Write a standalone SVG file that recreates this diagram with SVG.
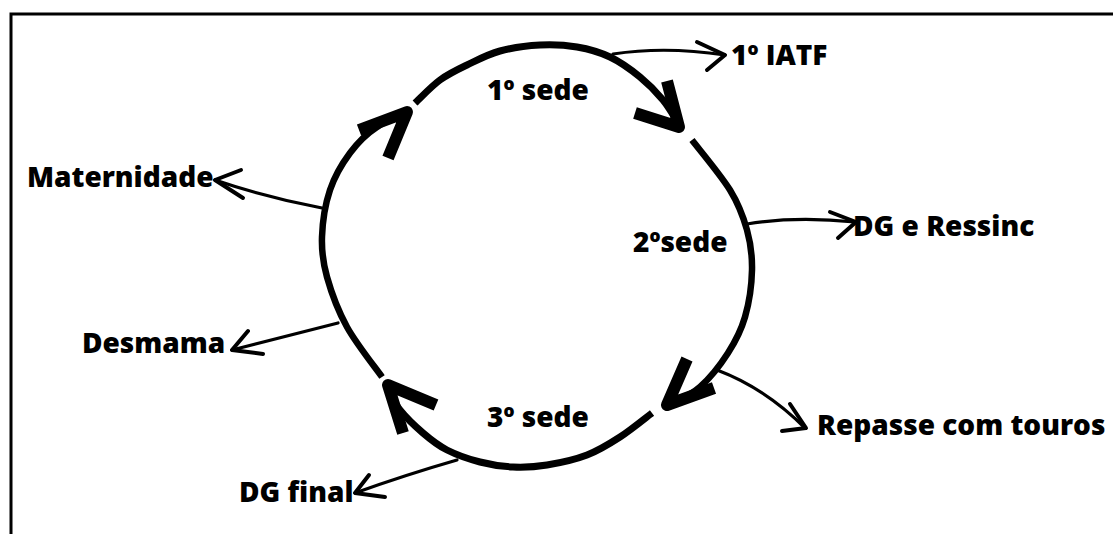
<svg xmlns="http://www.w3.org/2000/svg" width="1113" height="534" viewBox="0 0 1113 534">
  <style>
    .lbl { font-family: "Open Sans", "Liberation Sans", sans-serif; font-weight: 800; font-size: 28px; fill: #000; }
    .arc { fill: none; stroke: #000; stroke-width: 7; stroke-linecap: butt; }
    .arc-thin { stroke-width: 6.5; }
    .head { fill: none; stroke: #000; stroke-width: 12; stroke-linecap: butt; stroke-linejoin: round; }
    .branch { fill: none; stroke: #000; stroke-width: 3.2; stroke-linecap: round; stroke-linejoin: round; }
    .tip { fill: none; stroke: #000; stroke-width: 4; stroke-linecap: round; stroke-linejoin: round; }
    .frame { fill: none; stroke: #000; stroke-width: 3; }
  </style>
  <rect x="0" y="0" width="1113" height="534" fill="#fff"/>
  <!-- outer frame, open to the right and bottom -->
  <path class="frame" d="M11,540 L11,14 L1120,14"/>

  <g id="connectors">
    <!-- cycle arcs: 1st -> 2nd -> 3rd -> back to start -->
    <path class="arc" d="M415,103 C419.2,99.2 431.3,86.3 440,80 C448.7,73.7 457,69.8 467,65 C477,60.2 487.8,54.3 500,51 C512.2,47.7 527.2,45.7 540,45 C552.8,44.3 565.3,45 577,47 C588.7,49 599.5,52 610,57 C620.5,62 631.2,69.8 640,77 C648.8,84.2 656.3,91.8 663,100 C669.7,108.2 677.2,121.7 680,126"/>
    <path class="head" d="M635,113 L679,127 L667,81"/>

    <path class="arc arc-thin" d="M692,140 C698.3,148.3 720.8,175 730,190 C739.2,205 743.3,216.7 747,230 C750.7,243.3 752.3,255.5 752,270 C751.7,284.5 749,303.2 745,317 C741,330.8 735.5,341.3 728,353 C720.5,364.7 709.7,378.3 700,387 C690.3,395.7 675,402 670,405"/>
    <path class="head" d="M687,359 L667,405 L714,388"/>

    <path class="arc" d="M652,413 C646.7,417 630.8,430 620,437 C609.2,444 599.2,450.3 587,455 C574.8,459.7 559.3,463 547,465 C534.7,467 524.2,467.5 513,467 C501.8,466.5 491,464.8 480,462 C469,459.2 456.5,454.8 447,450 C437.5,445.2 430.8,439.7 423,433 C415.2,426.3 405.8,417.2 400,410 C394.2,402.8 390,393.3 388,390"/>
    <path class="head" d="M436,405 L388,385 L403,433"/>

    <path class="arc arc-thin" d="M382,377 C376.2,368.7 356.2,343.7 347,327 C337.8,310.3 331.2,292 327,277 C322.8,262 321.5,251.5 322,237 C322.5,222.5 325.3,204 330,190 C334.7,176 342.2,163.5 350,153 C357.8,142.5 367.5,133.2 377,127 C386.5,120.2 402,114.5 407,112"/>
    <path class="head" d="M359,130 L407,112 L388,158"/>

    <!-- side branches -->
    <path class="branch" d="M613,54 Q665,46 725,55"/>
    <path class="tip" d="M697,42 L725,55 L707,70"/>
    <path class="branch" d="M747,224 Q795,216 855,222"/>
    <path class="tip" d="M830,212 L856,222 L838,238"/>
    <path class="branch" d="M717,370 Q765,388 805,428"/>
    <path class="tip" d="M790,404 L806,428 L782,431"/>
    <path class="branch" d="M457,460 Q405,475 355,493"/>
    <path class="tip" d="M369,475 L355,493 L385,497"/>
    <path class="branch" d="M338,323 Q290,335 232,350"/>
    <path class="tip" d="M248,331 L232,350 L263,354"/>
    <path class="branch" d="M322,208 Q268,198 215,180"/>
    <path class="tip" d="M241,170 L215,180 L243,198"/>
  </g>

  <g id="stage-1"><text class="lbl" x="487" y="100">1º sede</text></g>
  <g id="stage-2"><text class="lbl" x="633" y="252">2ºsede</text></g>
  <g id="stage-3"><text class="lbl" x="487" y="427">3º sede</text></g>
  <g id="iatf"><text class="lbl" x="731" y="65">1º IATF</text></g>
  <g id="dg-ressinc"><text class="lbl" x="853" y="236">DG e Ressinc</text></g>
  <g id="repasse"><text class="lbl" x="817" y="435">Repasse com touros</text></g>
  <g id="dg-final"><text class="lbl" x="239" y="502">DG final</text></g>
  <g id="desmama"><text class="lbl" x="82" y="353">Desmama</text></g>
  <g id="maternidade"><text class="lbl" x="27" y="187">Maternidade</text></g>
</svg>
